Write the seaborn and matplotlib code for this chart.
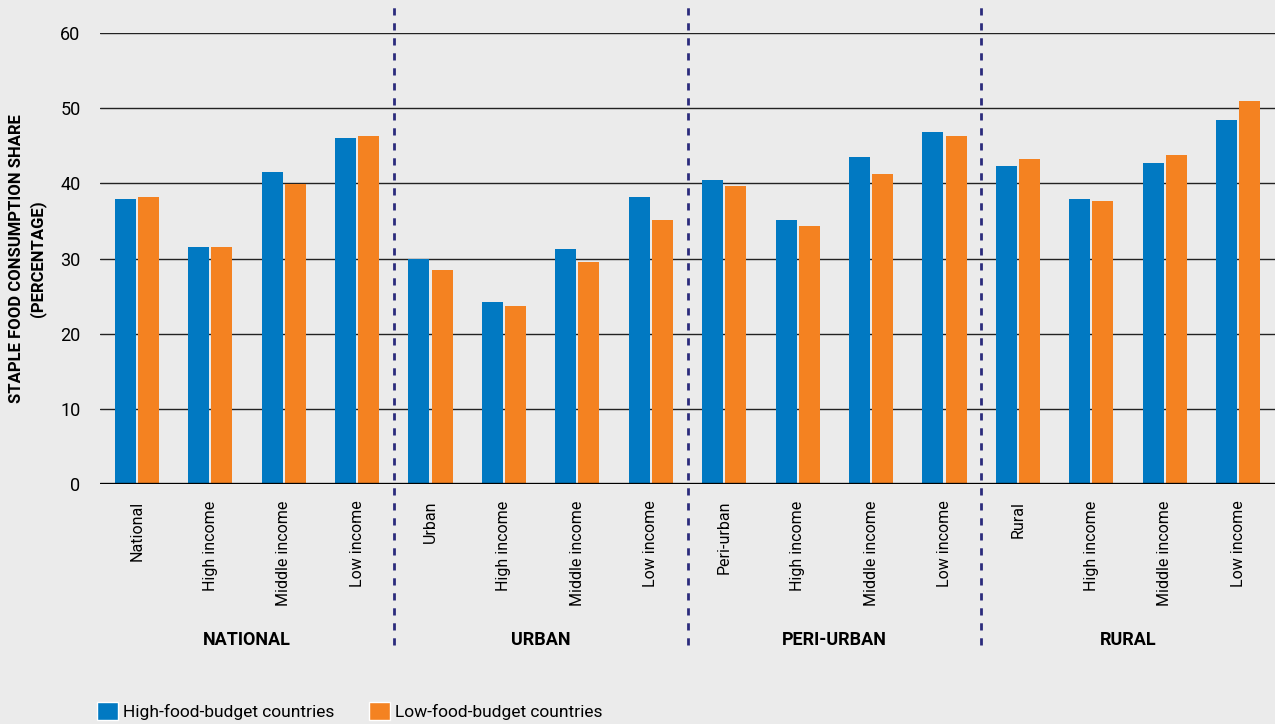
import pandas as pd
import matplotlib.pyplot as plt
import matplotlib.transforms as mtransforms
from matplotlib.patches import Patch
import seaborn as sns

# Data
groups = ["NATIONAL", "URBAN", "PERI-URBAN", "RURAL"]
tick_labels = [
    "National", "High income", "Middle income", "Low income",
    "Urban", "High income", "Middle income", "Low income",
    "Peri-urban", "High income", "Middle income", "Low income",
    "Rural", "High income", "Middle income", "Low income",
]
high_budget = [37.9, 31.5, 41.5, 46.0,
               29.9, 24.2, 31.3, 38.2,
               40.4, 35.1, 43.5, 46.8,
               42.3, 37.9, 42.7, 48.4]
low_budget = [38.2, 31.5, 39.9, 46.3,
              28.5, 23.7, 29.5, 35.1,
              39.6, 34.3, 41.2, 46.3,
              43.2, 37.6, 43.8, 50.9]
series_names = ["High-food-budget countries", "Low-food-budget countries"]
colors = ["#0179c2", "#f48221"]

# long-form table, unique key per bar position since tick labels repeat
keys = [f"{groups[i // 4]}|{lab}" for i, lab in enumerate(tick_labels)]
df = pd.concat([
    pd.DataFrame({"key": keys, "share": high_budget, "series": series_names[0]}),
    pd.DataFrame({"key": keys, "share": low_budget, "series": series_names[1]}),
])

sns.set_style("white", {"text.color": "black", "axes.labelcolor": "black",
                        "xtick.color": "black", "ytick.color": "black"})
plt.rcParams["font.family"] = ["Roboto", "DejaVu Sans"]
bg = "#ebebeb"

fig = plt.figure(figsize=(12.75, 7.24), dpi=100, facecolor=bg)
ax = fig.add_axes([100 / 1275, 240 / 724, 1175 / 1275, 451 / 724], facecolor=bg)

sns.barplot(data=df, x="key", y="share", hue="series", palette=colors,
            width=0.63, gap=0.09, saturation=1, linewidth=0,
            legend=False, ax=ax, zorder=3)

ax.set_ylim(0, 60)
ax.set_xlim(-0.5, len(keys) - 0.5)
ax.set_yticks(range(0, 61, 10))
ax.yaxis.grid(True, color="#222222", lw=1)
ax.set_axisbelow(True)
ax.axhline(0, color="black", lw=2.4, zorder=4)
for s in ax.spines.values():
    s.set_visible(False)

ax.set_xticks(range(len(keys)))
ax.set_xticklabels(tick_labels, rotation=90, fontsize=11.5, va="top")
ax.tick_params(axis="x", length=0, pad=12)
ax.tick_params(axis="y", length=0, pad=14, labelsize=13)
ax.set_xlabel("")
ax.set_ylabel("STAPLE FOOD CONSUMPTION SHARE\n(PERCENTAGE)",
              fontsize=12, fontweight="bold", labelpad=10, linespacing=1.4)

# group separators and group names below the ticks
trans = mtransforms.blended_transform_factory(ax.transData, ax.transAxes)
for i in range(1, len(groups)):
    ax.plot([4 * i - 0.5] * 2, [-0.357, 1.073], transform=trans, clip_on=False,
            color="#2b2b7c", lw=2, ls=(0, (2.6, 2.8)), zorder=5)
for i, g in enumerate(groups):
    ax.text(4 * i + 1.5, -0.346, g, transform=trans, ha="center", va="center",
            fontsize=13, fontweight="bold")

handles = [Patch(facecolor=c, label=n) for c, n in zip(colors, series_names)]
fig.legend(handles=handles, loc="lower left", bbox_to_anchor=(90 / 1275, -0.004),
           ncol=2, frameon=False, fontsize=12.5, handlelength=1.2, handleheight=1.2,
           handletextpad=0.3, columnspacing=2.0, borderaxespad=0)

fig.savefig("out.png", dpi=100, facecolor=bg)
